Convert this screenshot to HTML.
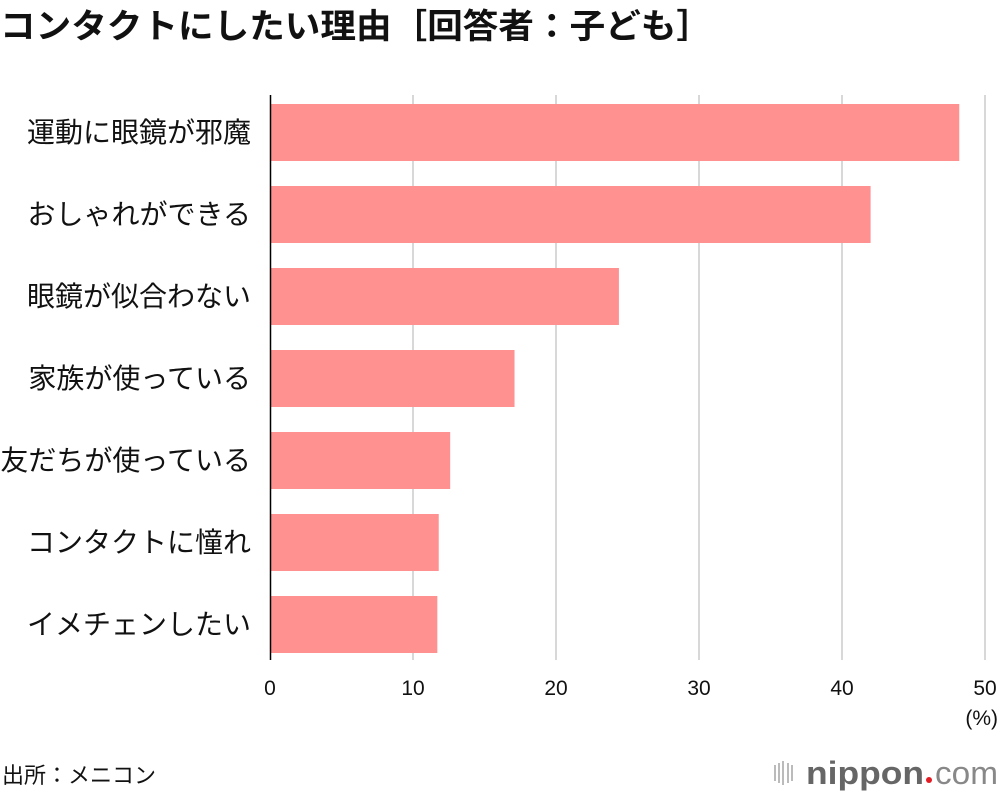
<!DOCTYPE html>
<html><head><meta charset="utf-8"><style>
body{margin:0;background:#fff;width:1000px;height:796px;overflow:hidden;font-family:"Liberation Sans","Noto Sans CJK JP",sans-serif;}
</style></head><body>
<svg width="1000" height="796" xmlns="http://www.w3.org/2000/svg" id="chart" style="font-family:'Liberation Sans','Noto Sans CJK JP',sans-serif">
<text x="0" y="38" font-size="34" font-weight="bold" fill="#111" textLength="712" lengthAdjust="spacingAndGlyphs">コンタクトにしたい理由［回答者：子ども］</text>
<g id="grid"></g><g id="bars"></g><g id="labels"></g><g id="ticks"></g>
<line x1="270.5" y1="95" x2="270.5" y2="660" stroke="#000" stroke-width="1.5"/>
<text x="998" y="725" font-size="21" text-anchor="end" fill="#111">(%)</text>
<text x="2" y="783" font-size="22" fill="#111">出所：メニコン</text>
<g>
<g fill="#bbb"><rect x="774" y="765" width="2" height="16"/><rect x="778" y="763" width="2" height="20"/><rect x="782" y="761" width="2" height="24"/><rect x="787" y="763" width="2" height="20"/><rect x="791" y="765" width="2" height="16"/></g>
<text x="806" y="784" font-size="32" font-weight="bold" fill="#666" textLength="118" lengthAdjust="spacingAndGlyphs">nippon</text>
<circle cx="929" cy="780" r="3" fill="#e31b23"/>
<text x="935" y="784" font-size="32" fill="#888" textLength="63" lengthAdjust="spacingAndGlyphs">com</text>
</g>
</svg>
<script>
const categories=["運動に眼鏡が邪魔","おしゃれができる","眼鏡が似合わない","家族が使っている","友だちが使っている","コンタクトに憧れ","イメチェンしたい"];
const values=[48.2,42.0,24.4,17.1,12.6,11.8,11.7];
const tickLabels=[0,10,20,30,40,50];
const NS="http://www.w3.org/2000/svg";
const x=v=>270+v*14.3;
const y=i=>104+i*82;
function mk(t,a,p){const e=document.createElementNS(NS,t);for(const k in a)e.setAttribute(k,a[k]);document.getElementById(p).appendChild(e);return e;}
tickLabels.forEach(t=>{
 if(t>0){const g=mk('line',{x1:x(t),x2:x(t),y1:95,y2:660,stroke:'#ccc','stroke-width':1.5},'grid');
 
 }
 const l=mk('text',{x:x(t),y:695,'font-size':21,'text-anchor':'middle',fill:'#111'},'ticks');l.textContent=t;
 
 
});
categories.forEach((c,i)=>{
 const r=mk('rect',{x:270,y:y(i),width:x(values[i])-270,height:57,fill:'#ff9191'},'bars');
 
 
 const t=mk('text',{x:251,y:y(i)+38,'font-size':28,'text-anchor':'end',fill:'#111'},'labels');t.textContent=c;
 
 
});
</script>
</body></html>
